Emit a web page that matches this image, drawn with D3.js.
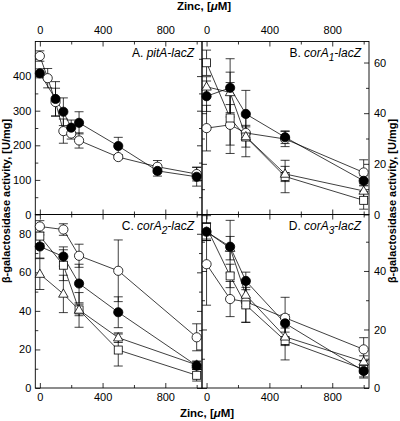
<!DOCTYPE html>
<html><head><meta charset="utf-8">
<script src="https://cdn.jsdelivr.net/npm/d3@7"></script>
<style>
html,body{margin:0;padding:0;background:#fff;}
svg{display:block;font-family:"Liberation Sans",Arial,Helvetica,sans-serif;}
</style></head>
<body><svg id="c" width="400" height="421"></svg>
<script>
// ---- data ----
const zincAFilled = [0,100,150,200,250,500,750,1000];
const aFilled     = [408,334,297,251,265,198,126,109];
const aFilledErr  = [13,50,40,22,32,25,15,27];
const zincAOpen   = [0,50,100,150,200,250,500,750,1000];
const aOpen       = [458,394,325,241,234,214,166,138,117];
const aOpenErr    = [15,28,40,35,16,22,5,18,20];

const zinc = [0,150,250,500,1000];
const bFilled   = [46.7,50.0,39.7,30.5,13.3];
const bFilledErr= [6,11.5,9.3,2.5,2];
const bOpen     = [34.1,35.4,32.2,29.8,16.6];
const bOpenErr  = [9,8,3,3,5];
const bSquare   = [59.9,38.1,30.6,15.0,5.6];
const bSquareErr= [5,14,4,6.4,3.5];
const bTri      = [50.4,48.2,30.8,16.0,9.3];
const bTriErr   = [4,8,8,3,3];

const cOpen     = [83.8,82.2,68.6,60.8,26.3];
const cOpenErr  = [3,3,6,16,7];
const cFilled   = [73.4,68.2,54.2,39.3,11.6];
const cFilledErr= [6,5,10,8,2];
const cSquare   = [78.8,63.7,40.5,19.7,6.6];
const cSquareErr= [4,8,9,8.3,3];
const cTri      = [59.1,48.8,40.5,26.1,12];
const cTriErr   = [8,9.7,3,2.5,2];

const dOpen     = [42.3,30.4,29.5,24.0,13.2];
const dOpenErr  = [14,6,7,7,4];
const dFilled   = [53.4,48.3,36.6,22.1,5.8];
const dFilledErr= [3,9,3,3,2];
const dSquare   = [54.9,38.3,28.4,16.2,6.4];
const dSquareErr= [4,4,6,6.6,3];
const dTri      = [53.4,47.8,31.8,17.5,9];
const dTriErr   = [3,4,4,3,2];

const xMajor = [0,400,800];
const xMinor = [200,600,1000];
const yTicksA = [0,100,200,300,400];
const yTicksB = [0,20,40,60];
const yTicksC = [0,20,40,60,80];
const yTicksD = [0,20,40];

const svg = d3.select("#c");
const X0L = 35.3, X1L = 202, X1R = 369;
const Y0T = 41.5, YM = 214.5, Y1B = 388;
const xDomain = [-29, 1034];

const panels = [
  {name:"A", x0:X0L, x1:X1L, y0:Y0T, y1:YM, yd:[0,500], yMaj:yTicksA, yMinStep:50, left:true, top:true,
   title:[["A. ",false,0],["pitA-lacZ",true,0]],
   series:[
     {x:zincAOpen, y:aOpen, e:aOpenErr, m:"oc"},
     {x:zincAFilled, y:aFilled, e:aFilledErr, m:"fc"}]},
  {name:"B", x0:X1L, x1:X1R, y0:Y0T, y1:YM, yd:[0,68.3], yMaj:yTicksB, yMinStep:10, left:false, top:true,
   title:[["B. ",false,0],["corA",true,0],["1",true,1],["-lacZ",true,0]],
   series:[
     {x:zinc, y:bOpen, e:bOpenErr, m:"oc"},
     {x:zinc, y:bSquare, e:bSquareErr, m:"sq"},
     {x:zinc, y:bTri, e:bTriErr, m:"tr"},
     {x:zinc, y:bFilled, e:bFilledErr, m:"fc"}]},
  {name:"C", x0:X0L, x1:X1L, y0:YM, y1:Y1B, yd:[0,90], yMaj:yTicksC, yMinStep:10, left:true, top:false,
   title:[["C. ",false,0],["corA",true,0],["2",true,1],["-lacZ",true,0]],
   series:[
     {x:zinc, y:cOpen, e:cOpenErr, m:"oc"},
     {x:zinc, y:cSquare, e:cSquareErr, m:"sq"},
     {x:zinc, y:cTri, e:cTriErr, m:"tr"},
     {x:zinc, y:cFilled, e:cFilledErr, m:"fc"}]},
  {name:"D", x0:X1L, x1:X1R, y0:YM, y1:Y1B, yd:[0,59.3], yMaj:yTicksD, yMinStep:10, left:false, top:false,
   title:[["D. ",false,0],["corA",true,0],["3",true,1],["-lacZ",true,0]],
   series:[
     {x:zinc, y:dOpen, e:dOpenErr, m:"oc"},
     {x:zinc, y:dSquare, e:dSquareErr, m:"sq"},
     {x:zinc, y:dTri, e:dTriErr, m:"tr"},
     {x:zinc, y:dFilled, e:dFilledErr, m:"fc"}]}
];

function styleAxis(g){
  g.select(".domain").remove();
  g.selectAll("line").attr("stroke","#000").attr("stroke-width",0.8);
  g.selectAll("text").attr("font-size",11).attr("fill","#000")
   .attr("font-family",'"Liberation Sans",Arial,sans-serif');
}

panels.forEach(p=>{
  const x = d3.scaleLinear().domain(xDomain).range([p.x0,p.x1]);
  const y = d3.scaleLinear().domain(p.yd).range([p.y1,p.y0]);
  const g = svg.append("g");
  const yMinor = d3.range(p.yMinStep, p.yd[1], p.yMinStep).filter(v=>!p.yMaj.includes(v) && v%(p.yMaj[1]-p.yMaj[0])!==0);
  const la = g.append("g").attr("transform",`translate(${p.x0},0)`)
    .call(d3.axisLeft(y).tickValues(p.yMaj).tickSizeInner(-5).tickSizeOuter(0).tickPadding(4)
      .tickFormat(p.left? d3.format("d") : ""));
  styleAxis(la);
  styleAxis(g.append("g").attr("transform",`translate(${p.x0},0)`)
    .call(d3.axisLeft(y).tickValues(yMinor).tickSizeInner(-3).tickSizeOuter(0).tickFormat("")));
  const ra = g.append("g").attr("transform",`translate(${p.x1},0)`)
    .call(d3.axisRight(y).tickValues(p.yMaj).tickSizeInner(-5).tickSizeOuter(0).tickPadding(5)
      .tickFormat(p.left? "" : d3.format("d")));
  styleAxis(ra);
  styleAxis(g.append("g").attr("transform",`translate(${p.x1},0)`)
    .call(d3.axisRight(y).tickValues(yMinor).tickSizeInner(-3).tickSizeOuter(0).tickFormat("")));
  const ta = g.append("g").attr("transform",`translate(0,${p.y0})`)
    .call(d3.axisTop(x).tickValues(xMajor).tickSizeInner(-5).tickSizeOuter(0).tickPadding(8)
      .tickFormat(p.top? d3.format("d") : ""));
  styleAxis(ta);
  styleAxis(g.append("g").attr("transform",`translate(0,${p.y0})`)
    .call(d3.axisTop(x).tickValues(xMinor).tickSizeInner(-3).tickSizeOuter(0).tickFormat("")));
  const ba = g.append("g").attr("transform",`translate(0,${p.y1})`)
    .call(d3.axisBottom(x).tickValues(xMajor).tickSizeInner(-5).tickSizeOuter(0).tickPadding(5)
      .tickFormat(p.top? "" : d3.format("d")));
  styleAxis(ba);
  styleAxis(g.append("g").attr("transform",`translate(0,${p.y1})`)
    .call(d3.axisBottom(x).tickValues(xMinor).tickSizeInner(-3).tickSizeOuter(0).tickFormat("")));
  g.append("rect").attr("x",p.x0).attr("y",p.y0).attr("width",p.x1-p.x0).attr("height",p.y1-p.y0)
    .attr("fill","none").attr("stroke","#000").attr("stroke-width",0.9);

  const line = d3.line().x(d=>x(d[0])).y(d=>y(d[1]));
  p.series.forEach(s=>{
    const pts = s.x.map((v,i)=>[v,s.y[i]]);
    g.append("path").attr("d",line(pts)).attr("fill","none").attr("stroke","#000").attr("stroke-width",0.75);
  });
  p.series.forEach(s=>{
    s.x.forEach((v,i)=>{
      const cx = x(v), hi = y(s.y[i]+s.e[i]), lo = y(Math.max(0,s.y[i]-s.e[i]));
      g.append("line").attr("x1",cx).attr("x2",cx).attr("y1",hi).attr("y2",lo).attr("stroke","#000").attr("stroke-width",0.75);
      [hi,lo].forEach(yy=>g.append("line").attr("x1",cx-4.5).attr("x2",cx+4.5).attr("y1",yy).attr("y2",yy)
        .attr("stroke","#000").attr("stroke-width",0.75));
    });
  });
  p.series.forEach(s=>{
    s.x.forEach((v,i)=>{
      const cx = x(v), cy = y(s.y[i]);
      if(s.m==="oc"||s.m==="fc"){
        g.append("circle").attr("cx",cx).attr("cy",cy).attr("r",4.6)
          .attr("fill", s.m==="fc"?"#000":"#fff").attr("stroke","#000").attr("stroke-width",0.8);
      } else if(s.m==="sq"){
        g.append("rect").attr("x",cx-4).attr("y",cy-4).attr("width",8).attr("height",8)
          .attr("fill","#fff").attr("stroke","#000").attr("stroke-width",0.8);
      } else {
        const r=5;
        g.append("path").attr("d",`M${cx},${cy-r} L${cx+r*0.95},${cy+r*0.65} L${cx-r*0.95},${cy+r*0.65} Z`)
          .attr("fill","#fff").attr("stroke","#000").attr("stroke-width",0.8);
      }
    });
  });
  const t = g.append("text").attr("x",p.x1-8).attr("y",p.y0+15).attr("text-anchor","end")
    .attr("font-size",12).attr("fill","#000");
  let prevSub = 0;
  p.title.forEach(([txt,it,sub])=>{
    const ts = t.append("tspan").text(txt).attr("font-style",it?"italic":"normal");
    if(sub && !prevSub){ ts.attr("dy",4).attr("font-size",10); }
    else if(!sub && prevSub){ ts.attr("dy",-4); }
    prevSub = sub;
  });
});

const zt = svg.append("text").attr("x",204).attr("y",10).attr("text-anchor","middle")
  .attr("font-size",11.5).attr("font-weight","bold");
zt.append("tspan").text("Zinc, [");
zt.append("tspan").text("μ").attr("font-style","italic");
zt.append("tspan").text("M]");
const zb = svg.append("text").attr("x",207).attr("y",417).attr("text-anchor","middle")
  .attr("font-size",11.5).attr("font-weight","bold");
zb.append("tspan").text("Zinc, [");
zb.append("tspan").text("μ").attr("font-style","italic");
zb.append("tspan").text("M]");

svg.append("text").attr("transform","translate(10,201) rotate(-90)").attr("text-anchor","middle")
  .attr("font-size",11).attr("font-weight","bold").text("β-galactosidase activity, [U/mg]");
svg.append("text").attr("transform","translate(396,201) rotate(-90)").attr("text-anchor","middle")
  .attr("font-size",11).attr("font-weight","bold").text("β-galactosidase activity, [U/mg]");
</script></body></html>
